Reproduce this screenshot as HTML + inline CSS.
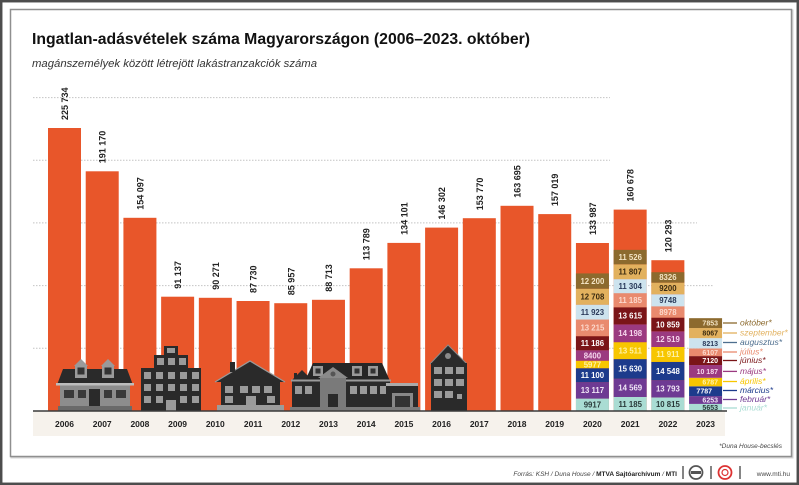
<!DOCTYPE html>
<html><head><meta charset="utf-8"><style>
html,body{margin:0;padding:0;background:#fff;}
svg{display:block;}
text{font-family:"Liberation Sans",Arial,sans-serif;}
</style></head><body>
<svg width="799" height="485" viewBox="0 0 799 485" xmlns="http://www.w3.org/2000/svg">
<rect x="0" y="0" width="799" height="485" fill="#fff"/>
<rect x="1.2" y="1.2" width="796.6" height="482.6" fill="none" stroke="#4d4d4d" stroke-width="2.5"/>
<rect x="11.5" y="10.5" width="781" height="447" fill="none" stroke="#d4d4d4" stroke-width="2"/>
<rect x="10.5" y="9.5" width="781" height="447" fill="#fff" stroke="#8f8f8f" stroke-width="1.5"/>

<text x="32" y="44" font-size="16" font-weight="bold" fill="#111" textLength="498" lengthAdjust="spacingAndGlyphs">Ingatlan-adásvételek száma Magyarországon (2006–2023. október)</text>
<text x="32" y="67" font-size="11" font-style="italic" fill="#333" textLength="285" lengthAdjust="spacingAndGlyphs">magánszemélyek között létrejött lakástranzakciók száma</text>

<g stroke="#c4c4c4" stroke-width="1" stroke-dasharray="1.5 1.5">
<line x1="33" y1="97.6" x2="610" y2="97.6"/>
<line x1="33" y1="160.3" x2="610" y2="160.3"/>
<line x1="33" y1="222.9" x2="697" y2="222.9"/>
<line x1="33" y1="285.6" x2="713" y2="285.6"/>
<line x1="33" y1="348.3" x2="713" y2="348.3"/>
</g>

<rect x="33" y="411" width="692" height="25" fill="#f6f2ec"/>

<g fill="#e8562a">
<rect x="48" y="128" width="33" height="283"/>
<rect x="85.71" y="171.3" width="33" height="239.7"/>
<rect x="123.42" y="217.8" width="33" height="193.2"/>
<rect x="161.13" y="296.7" width="33" height="114.3"/>
<rect x="198.84" y="297.8" width="33" height="113.2"/>
<rect x="236.55" y="301" width="33" height="110"/>
<rect x="274.26" y="303.2" width="33" height="107.8"/>
<rect x="311.97" y="299.8" width="33" height="111.2"/>
<rect x="349.68" y="268.3" width="33" height="142.7"/>
<rect x="387.39" y="242.9" width="33" height="168.1"/>
<rect x="425.1" y="227.6" width="33" height="183.4"/>
<rect x="462.81" y="218.2" width="33" height="192.8"/>
<rect x="500.52" y="205.8" width="33" height="205.2"/>
<rect x="538.23" y="214.1" width="33" height="196.9"/>
<rect x="575.94" y="243" width="33" height="168"/>
<rect x="613.65" y="209.6" width="33" height="201.4"/>
<rect x="651.36" y="260.2" width="33" height="150.8"/>
</g>

<g font-size="9" font-weight="bold" fill="#222">
<text transform="translate(68,120) rotate(-90)">225 734</text>
<text transform="translate(105.7,163.3) rotate(-90)">191 170</text>
<text transform="translate(143.4,209.8) rotate(-90)">154 097</text>
<text transform="translate(181.1,288.7) rotate(-90)">91 137</text>
<text transform="translate(218.8,289.8) rotate(-90)">90 271</text>
<text transform="translate(256.6,293) rotate(-90)">87 730</text>
<text transform="translate(294.3,295.2) rotate(-90)">85 957</text>
<text transform="translate(332,291.8) rotate(-90)">88 713</text>
<text transform="translate(369.7,260.3) rotate(-90)">113 789</text>
<text transform="translate(407.4,234.9) rotate(-90)">134 101</text>
<text transform="translate(445.1,219.6) rotate(-90)">146 302</text>
<text transform="translate(482.8,210.2) rotate(-90)">153 770</text>
<text transform="translate(520.5,197.8) rotate(-90)">163 695</text>
<text transform="translate(558.2,206.1) rotate(-90)">157 019</text>
<text transform="translate(595.9,235) rotate(-90)">133 987</text>
<text transform="translate(633.6,201.6) rotate(-90)">160 678</text>
<text transform="translate(671.4,252.2) rotate(-90)">120 293</text>
</g>

<g>
<rect x="575.94" y="398.57" width="33" height="12.43" fill="#a9dcd3"/>
<rect x="575.94" y="382.13" width="33" height="16.44" fill="#6e3a93"/>
<rect x="575.94" y="368.21" width="33" height="13.92" fill="#1d3b8c"/>
<rect x="575.94" y="360.72" width="33" height="7.49" fill="#f7c600"/>
<rect x="575.94" y="350.19" width="33" height="10.53" fill="#9b3a80"/>
<rect x="575.94" y="336.17" width="33" height="14.02" fill="#7a1518"/>
<rect x="575.94" y="319.60" width="33" height="16.57" fill="#e98a6e"/>
<rect x="575.94" y="304.65" width="33" height="14.95" fill="#cde3ee"/>
<rect x="575.94" y="288.72" width="33" height="15.93" fill="#e2b15e"/>
<rect x="575.94" y="273.42" width="33" height="15.30" fill="#8c6a2e"/>
</g>
<g>
<rect x="613.65" y="396.98" width="33" height="14.02" fill="#a9dcd3"/>
<rect x="613.65" y="378.71" width="33" height="18.27" fill="#6e3a93"/>
<rect x="613.65" y="359.11" width="33" height="19.60" fill="#1d3b8c"/>
<rect x="613.65" y="342.17" width="33" height="16.94" fill="#f7c600"/>
<rect x="613.65" y="324.37" width="33" height="17.80" fill="#9b3a80"/>
<rect x="613.65" y="307.30" width="33" height="17.07" fill="#7a1518"/>
<rect x="613.65" y="293.28" width="33" height="14.02" fill="#e98a6e"/>
<rect x="613.65" y="279.11" width="33" height="14.17" fill="#cde3ee"/>
<rect x="613.65" y="264.31" width="33" height="14.80" fill="#e2b15e"/>
<rect x="613.65" y="249.86" width="33" height="14.45" fill="#8c6a2e"/>
</g>
<g>
<rect x="651.36" y="397.44" width="33" height="13.56" fill="#a9dcd3"/>
<rect x="651.36" y="380.15" width="33" height="17.29" fill="#6e3a93"/>
<rect x="651.36" y="361.91" width="33" height="18.24" fill="#1d3b8c"/>
<rect x="651.36" y="346.98" width="33" height="14.93" fill="#f7c600"/>
<rect x="651.36" y="331.28" width="33" height="15.70" fill="#9b3a80"/>
<rect x="651.36" y="317.67" width="33" height="13.61" fill="#7a1518"/>
<rect x="651.36" y="306.41" width="33" height="11.26" fill="#e98a6e"/>
<rect x="651.36" y="294.19" width="33" height="12.22" fill="#cde3ee"/>
<rect x="651.36" y="282.66" width="33" height="11.53" fill="#e2b15e"/>
<rect x="651.36" y="272.22" width="33" height="10.44" fill="#8c6a2e"/>
</g>
<g>
<rect x="689.07" y="403.91" width="33" height="7.09" fill="#a9dcd3"/>
<rect x="689.07" y="396.07" width="33" height="7.84" fill="#6e3a93"/>
<rect x="689.07" y="386.31" width="33" height="9.76" fill="#1d3b8c"/>
<rect x="689.07" y="377.80" width="33" height="8.51" fill="#f7c600"/>
<rect x="689.07" y="365.03" width="33" height="12.77" fill="#9b3a80"/>
<rect x="689.07" y="356.10" width="33" height="8.93" fill="#7a1518"/>
<rect x="689.07" y="348.44" width="33" height="7.66" fill="#e98a6e"/>
<rect x="689.07" y="338.14" width="33" height="10.30" fill="#cde3ee"/>
<rect x="689.07" y="328.03" width="33" height="10.11" fill="#e2b15e"/>
<rect x="689.07" y="318.18" width="33" height="9.85" fill="#8c6a2e"/>
</g>

<g font-size="7.8" font-weight="bold" text-anchor="middle">
<text x="592.4" y="407.6" fill="#2a3a3a">9917</text>
<text x="592.4" y="393.1" fill="#f0e6f6">13 117</text>
<text x="592.4" y="378" fill="#fff">11 100</text>
<text x="592.4" y="367.3" fill="#fff2a8">5977</text>
<text x="592.4" y="358.3" fill="#f6d6ec">8400</text>
<text x="592.4" y="346" fill="#fff">11 186</text>
<text x="592.4" y="330.7" fill="#fcd8cc">13 215</text>
<text x="592.4" y="314.9" fill="#2a3a5a">11 923</text>
<text x="592.4" y="299.5" fill="#3a2a10">12 708</text>
<text x="592.4" y="283.9" fill="#f3e4c4">12 200</text>

<text x="630.2" y="406.8" fill="#2a3a3a">11 185</text>
<text x="630.2" y="390.6" fill="#f0e6f6">14 569</text>
<text x="630.2" y="371.7" fill="#fff">15 630</text>
<text x="630.2" y="353.4" fill="#fff2a8">13 511</text>
<text x="630.2" y="336.1" fill="#f6d6ec">14 198</text>
<text x="630.2" y="318.6" fill="#fff">13 615</text>
<text x="630.2" y="303.1" fill="#fcd8cc">11 185</text>
<text x="630.2" y="289" fill="#2a3a5a">11 304</text>
<text x="630.2" y="274.5" fill="#3a2a10">11 807</text>
<text x="630.2" y="259.9" fill="#f3e4c4">11 526</text>

<text x="667.9" y="407" fill="#2a3a3a">10 815</text>
<text x="667.9" y="391.6" fill="#f0e6f6">13 793</text>
<text x="667.9" y="373.8" fill="#fff">14 548</text>
<text x="667.9" y="357.2" fill="#fff2a8">11 911</text>
<text x="667.9" y="341.9" fill="#f6d6ec">12 519</text>
<text x="667.9" y="327.3" fill="#fff">10 859</text>
<text x="667.9" y="314.8" fill="#fcd8cc">8978</text>
<text x="667.9" y="303.1" fill="#2a3a5a">9748</text>
<text x="667.9" y="291.2" fill="#3a2a10">9200</text>
<text x="667.9" y="280.2" fill="#f3e4c4">8326</text>
</g>
<g font-size="7" font-weight="bold" text-anchor="end">
<text x="718" y="409.9" fill="#2a3a3a">5653</text>
<text x="718" y="402.5" fill="#f0e6f6">6253</text>
<text x="712" y="393.7" fill="#fff">7787</text>
<text x="718" y="384.6" fill="#fff2a8">6787</text>
<text x="718" y="373.9" fill="#f6d6ec">10 187</text>
<text x="718" y="363.1" fill="#fff">7120</text>
<text x="718" y="354.8" fill="#fcd8cc">6107</text>
<text x="718" y="345.8" fill="#2a3a5a">8213</text>
<text x="718" y="335.6" fill="#3a2a10">8067</text>
<text x="718" y="325.6" fill="#f3e4c4">7853</text>
</g>

<g stroke-width="1.3">
<line x1="723" y1="323" x2="737" y2="323" stroke="#8c6a2e"/>
<line x1="723" y1="333" x2="737" y2="333" stroke="#e2b15e"/>
<line x1="723" y1="342.5" x2="737" y2="342.5" stroke="#4d6e8e"/>
<line x1="723" y1="352" x2="737" y2="352" stroke="#e98a6e"/>
<line x1="723" y1="360.5" x2="737" y2="360.5" stroke="#7a1518"/>
<line x1="723" y1="371.4" x2="737" y2="371.4" stroke="#9b3a80"/>
<line x1="723" y1="381.5" x2="737" y2="381.5" stroke="#f7c600"/>
<line x1="723" y1="390.5" x2="737" y2="390.5" stroke="#1d3b8c"/>
<line x1="723" y1="399.5" x2="737" y2="399.5" stroke="#6e3a93"/>
<line x1="723" y1="408" x2="737" y2="408" stroke="#a9dcd3"/>
</g>
<g font-size="8.5" font-style="italic">
<text x="740" y="325.5" fill="#8c6a2e">október*</text>
<text x="740" y="335.5" fill="#e2b15e">szeptember*</text>
<text x="740" y="345" fill="#4d6e8e">augusztus*</text>
<text x="740" y="354.5" fill="#e98a6e">július*</text>
<text x="740" y="363" fill="#7a1518">június*</text>
<text x="740" y="374" fill="#9b3a80">május*</text>
<text x="740" y="384" fill="#f7c600">április*</text>
<text x="740" y="393" fill="#1d3b8c">március*</text>
<text x="740" y="402" fill="#6e3a93">február*</text>
<text x="740" y="410.5" fill="#a9dcd3">január*</text>
</g>

<g>
<rect x="60" y="384" width="70" height="27" fill="#8d8d8d"/>
<polygon points="57,385 63,369 127,369 133,385" fill="#2a2a2a"/>
<rect x="56" y="383" width="78" height="2.5" fill="#bdbdbd"/>
<polygon points="74,366 81,359 88,366" fill="#9a9a9a"/>
<rect x="75" y="365" width="12" height="13" fill="#9a9a9a"/>
<rect x="77.5" y="367.5" width="7" height="7" fill="#333"/>
<polygon points="101,366 108,359 115,366" fill="#9a9a9a"/>
<rect x="102" y="365" width="12" height="13" fill="#9a9a9a"/>
<rect x="104.5" y="367.5" width="7" height="7" fill="#333"/>
<rect x="64" y="390" width="10" height="8" fill="#3a3a3a"/>
<rect x="78" y="390" width="8" height="8" fill="#3a3a3a"/>
<rect x="104" y="390" width="8" height="8" fill="#3a3a3a"/>
<rect x="116" y="390" width="10" height="8" fill="#3a3a3a"/>
<rect x="89" y="389" width="11" height="22" fill="#2a2a2a"/>
<rect x="58" y="406" width="74" height="5" fill="#6a6a6a"/>
</g>
<g>
<rect x="141" y="368" width="60" height="43" fill="#2a2a2a"/>
<rect x="154" y="355" width="34" height="14" fill="#2a2a2a"/>
<rect x="164" y="346" width="14" height="10" fill="#2a2a2a"/>
<g fill="#9a9a9a">
<rect x="167" y="348" width="8" height="5"/>
<rect x="157" y="358" width="7" height="7"/><rect x="168" y="358" width="7" height="7"/><rect x="179" y="358" width="7" height="7"/>
<rect x="144" y="372" width="7" height="7"/><rect x="156" y="372" width="7" height="7"/><rect x="168" y="372" width="7" height="7"/><rect x="180" y="372" width="7" height="7"/><rect x="192" y="372" width="7" height="7"/>
<rect x="144" y="384" width="7" height="7"/><rect x="156" y="384" width="7" height="7"/><rect x="168" y="384" width="7" height="7"/><rect x="180" y="384" width="7" height="7"/><rect x="192" y="384" width="7" height="7"/>
<rect x="144" y="396" width="7" height="7"/><rect x="156" y="396" width="7" height="7"/><rect x="180" y="396" width="7" height="7"/><rect x="192" y="396" width="7" height="7"/>
<rect x="166" y="400" width="10" height="11"/>
</g>
</g>
<g>
<polygon points="215,382 250,361 285,382" fill="#2a2a2a"/>
<polyline points="215,382 250,361 285,382" fill="none" stroke="#9a9a9a" stroke-width="1.2"/>
<rect x="230" y="362" width="5" height="10" fill="#2a2a2a"/>
<rect x="221" y="381" width="59" height="26" fill="#2a2a2a"/>
<g fill="#9a9a9a">
<rect x="225" y="386" width="8" height="7"/><rect x="225" y="396" width="8" height="7"/>
<rect x="240" y="386" width="8" height="7"/><rect x="252" y="386" width="8" height="7"/>
<rect x="264" y="386" width="8" height="7"/><rect x="267" y="396" width="8" height="7"/>
<rect x="246" y="396" width="10" height="11"/>
</g>
<rect x="217" y="405" width="67" height="6" fill="#9c9c9c"/>
</g>
<g>
<polygon points="291,381 302,370 313,381" fill="#2a2a2a"/>
<rect x="294" y="373" width="3" height="8" fill="#2a2a2a"/>
<rect x="292" y="381" width="22" height="30" fill="#2a2a2a"/>
<polygon points="305,381 313,363 382,363 390,381" fill="#262626"/>
<rect x="305" y="380" width="85" height="31" fill="#2a2a2a"/>
<rect x="291" y="379.5" width="100" height="2" fill="#9a9a9a"/>
<g fill="#9a9a9a">
<rect x="313" y="366" width="10" height="10"/>
<rect x="352" y="366" width="10" height="10"/>
<rect x="368" y="366" width="10" height="10"/>
</g>
<g fill="#333">
<rect x="315.5" y="368.5" width="5" height="5"/>
<rect x="354.5" y="368.5" width="5" height="5"/>
<rect x="370.5" y="368.5" width="5" height="5"/>
</g>
<polygon points="318,378 333,367 348,378" fill="#8a8a8a"/>
<rect x="320" y="378" width="26" height="33" fill="#7a7a7a"/>
<circle cx="333" cy="374" r="2.5" fill="#555"/>
<rect x="328" y="394" width="10" height="17" fill="#2a2a2a"/>
<g fill="#9a9a9a">
<rect x="295" y="386" width="7" height="8"/><rect x="305" y="386" width="7" height="8"/>
<rect x="350" y="386" width="7" height="8"/><rect x="360" y="386" width="7" height="8"/>
<rect x="370" y="386" width="7" height="8"/><rect x="380" y="386" width="6" height="8"/>
</g>
<rect x="386" y="383" width="32" height="3" fill="#aaa"/>
<rect x="387" y="386" width="31" height="25" fill="#2a2a2a"/>
<rect x="392" y="393" width="21" height="18" fill="#888"/>
<rect x="395" y="396" width="15" height="15" fill="#333"/>
<rect x="290" y="407" width="130" height="4" fill="#7a7a7a"/>
</g>
<g>
<polygon points="430,364 448,345 467,364" fill="#2a2a2a"/>
<polyline points="430,364 448,345 467,364" fill="none" stroke="#8a8a8a" stroke-width="1"/>
<circle cx="448" cy="356" r="3" fill="#8a8a8a"/>
<rect x="431" y="363" width="36" height="48" fill="#2a2a2a"/>
<g fill="#9a9a9a">
<rect x="434" y="367" width="8" height="7"/><rect x="445" y="367" width="8" height="7"/><rect x="456" y="367" width="8" height="7"/>
<rect x="434" y="379" width="8" height="7"/><rect x="445" y="379" width="8" height="7"/><rect x="456" y="379" width="8" height="7"/>
<rect x="434" y="391" width="8" height="7"/><rect x="445" y="391" width="8" height="7"/><rect x="457" y="394" width="5" height="5"/>
</g>
</g>

<line x1="33" y1="411" x2="727" y2="411" stroke="#3a3a3a" stroke-width="1.6"/>

<g font-size="8.5" font-weight="bold" fill="#222" text-anchor="middle">
<text x="64.5" y="427">2006</text>
<text x="102.2" y="427">2007</text>
<text x="139.9" y="427">2008</text>
<text x="177.6" y="427">2009</text>
<text x="215.3" y="427">2010</text>
<text x="253.1" y="427">2011</text>
<text x="290.8" y="427">2012</text>
<text x="328.5" y="427">2013</text>
<text x="366.2" y="427">2014</text>
<text x="403.9" y="427">2015</text>
<text x="441.6" y="427">2016</text>
<text x="479.3" y="427">2017</text>
<text x="517" y="427">2018</text>
<text x="554.7" y="427">2019</text>
<text x="592.4" y="427">2020</text>
<text x="630.2" y="427">2021</text>
<text x="667.9" y="427">2022</text>
<text x="705.6" y="427">2023</text>
</g>

<text x="782" y="448" font-size="6.5" font-style="italic" fill="#444" text-anchor="end">*Duna House-becslés</text>

<text x="677" y="476" font-size="6.5" font-style="italic" fill="#444" text-anchor="end">Forrás: KSH / Duna House / <tspan font-weight="bold" font-style="normal" fill="#222">MTVA Sajtóarchívum</tspan> / <tspan font-weight="bold" font-style="normal" fill="#222">MTI</tspan></text>
<line x1="683" y1="466" x2="683" y2="479" stroke="#333" stroke-width="1.2"/>
<circle cx="696" cy="472.5" r="6.5" fill="#fff" stroke="#555" stroke-width="1.8"/>
<rect x="691" y="471" width="10" height="3" fill="#555"/>
<line x1="711" y1="466" x2="711" y2="479" stroke="#333" stroke-width="1.2"/>
<circle cx="725" cy="472.5" r="6.5" fill="#fff" stroke="#d33" stroke-width="1.8"/>
<circle cx="725" cy="472.5" r="3" fill="none" stroke="#d33" stroke-width="1.2"/>
<line x1="740" y1="466" x2="740" y2="479" stroke="#333" stroke-width="1.2"/>
<text x="790" y="476" font-size="6.5" fill="#444" text-anchor="end">www.mti.hu</text>
</svg>
</body></html>
